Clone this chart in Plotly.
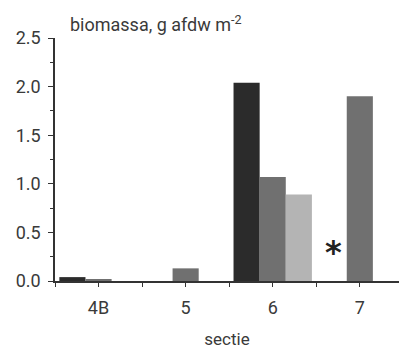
import plotly.graph_objects as go

categories = ["4B", "5", "6", "7"]
series_a = [0.04, None, 2.04, None]   # dark
series_b = [0.015, 0.13, 1.07, 1.90]  # medium
series_c = [0.0, None, 0.89, None]    # light
missing_marker = {"category": 3, "series_offset": -0.3, "y": 0.3}

colors = ["#2b2b2b", "#707070", "#b4b4b4"]
xpos = list(range(len(categories)))

fig = go.Figure()
for vals, col in zip([series_a, series_b, series_c], colors):
    fig.add_trace(go.Bar(x=xpos, y=vals, marker=dict(color=col, line=dict(width=0)),
                         showlegend=False))

font_fam = "Roboto, sans-serif"
txt = "#3a3a3a"
fig.update_layout(
    width=399, height=350,
    margin=dict(l=55, r=0, t=38, b=69),
    plot_bgcolor="white", paper_bgcolor="white",
    barmode="group", bargap=0.1, bargroupgap=0,
    font=dict(family=font_fam, color=txt, size=18),
    title=dict(text="biomassa, g afdw m<sup>-2</sup>", xref="container", x=70/399,
               xanchor="left", y=1-25/350, yanchor="middle",
               font=dict(size=18, color=txt, family=font_fam)),
    xaxis=dict(range=[-0.5, 3.45], tickmode="array", tickvals=xpos, ticktext=categories,
               automargin=False,
               showline=True, linecolor="#333", linewidth=1.5, ticks="outside", ticklen=4,
               tickcolor="#333", showgrid=False, zeroline=False, ticklabelstandoff=6,
               minor=dict(dtick=0.5, tick0=0.5, ticks="outside", ticklen=4, tickcolor="#333"),
               title=dict(text="sectie", font=dict(size=17), standoff=16),
               tickfont=dict(size=18)),
    yaxis=dict(range=[0, 2.5], dtick=0.5, tickformat=".1f", showline=True, linecolor="#333",
               automargin=False,
               linewidth=1.5, ticks="outside", ticklen=5, tickcolor="#333", showgrid=False,
               zeroline=False, ticklabelstandoff=4,
               minor=dict(dtick=0.25, ticks="outside", ticklen=3, tickcolor="#333"),
               tickfont=dict(size=18)),
)
fig.add_annotation(x=missing_marker["category"] + missing_marker["series_offset"],
                   y=missing_marker["y"], text="<b>*</b>", showarrow=False,
                   font=dict(size=32, color="#222", family="DejaVu Sans"))

fig.write_html("out.html", config={"displayModeBar": False},
               post_script="document.body.style.margin='0px';")
